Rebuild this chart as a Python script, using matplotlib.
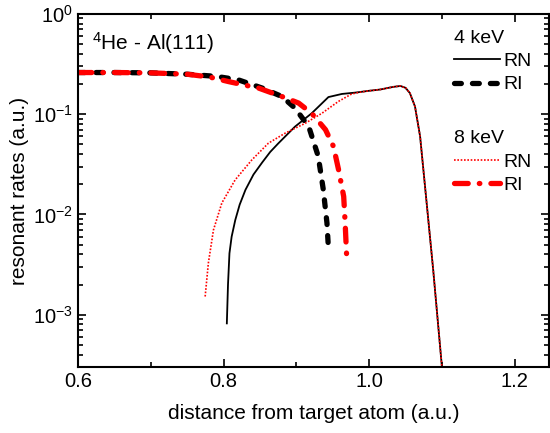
import matplotlib
matplotlib.use('Agg')
import matplotlib.pyplot as plt
from matplotlib.ticker import MultipleLocator, LogLocator, NullFormatter

plt.rcParams['font.family'] = ['Liberation Sans', 'DejaVu Sans']
plt.rcParams['mathtext.fontset'] = 'custom'
plt.rcParams['mathtext.rm'] = 'Liberation Sans'
plt.rcParams['mathtext.it'] = 'Liberation Sans:italic'
plt.rcParams['mathtext.default'] = 'regular'

# falling edge, shared by both RN curves
x_fall = [1.0, 1.015, 1.033, 1.043, 1.05, 1.056, 1.063, 1.07, 1.079, 1.088, 1.1, 1.104]
y_fall = [0.171, 0.176, 0.187, 0.191, 0.183, 0.162, 0.119, 0.06, 0.013, 2.8e-3, 3.0e-4, 1.5e-4]

# 4 keV, resonant neutralization (RN)
x_rn4 = [0.8044, 0.806, 0.808, 0.811, 0.816, 0.822, 0.83, 0.841, 0.853, 0.864, 0.875,
         0.898, 0.921, 0.944, 0.9625, 0.981] + x_fall
y_rn4 = [8.2e-4, 2.0e-3, 4.1e-3, 6.0e-3, 8.8e-3, 0.0125, 0.0176, 0.025, 0.033, 0.042, 0.051,
         0.075, 0.102, 0.148, 0.159, 0.164] + y_fall

# 4 keV, resonant ionization (RI)
x_ri4 = [0.6, 0.65, 0.70, 0.75, 0.79, 0.82, 0.853, 0.88, 0.898, 0.917, 0.93, 0.937,
         0.942, 0.944]
y_ri4 = [0.26, 0.26, 0.258, 0.25, 0.238, 0.22, 0.182, 0.15, 0.115, 0.075, 0.038, 0.0176,
         8.2e-3, 4.6e-3]

# 8 keV, RN
x_rn8 = [0.7746, 0.779, 0.786, 0.7975, 0.8158, 0.8388, 0.8616, 0.8845, 0.912, 0.935,
         0.9578, 0.976, 0.988] + x_fall
y_rn8 = [1.52e-3, 3.27e-3, 7.0e-3, 0.013, 0.0221, 0.035, 0.0514, 0.0646, 0.081, 0.102,
         0.134, 0.159, 0.166] + y_fall

# 8 keV, RI
x_ri8 = [0.6, 0.65, 0.70, 0.75, 0.78, 0.807, 0.848, 0.88, 0.903, 0.921, 0.94, 0.951,
         0.958, 0.965, 0.967, 0.9693]
y_ri8 = [0.26, 0.26, 0.258, 0.25, 0.235, 0.211, 0.182, 0.15, 0.129, 0.102, 0.07, 0.0475,
         0.0278, 0.0151, 8.2e-3, 3.5e-3]

fig = plt.figure(figsize=(5.5, 4.33), dpi=100)
ax = fig.add_axes([0.142, 0.152, 0.856, 0.816])

l_rn4, = ax.plot(x_rn4, y_rn4, color='black', lw=1.3, ls='-')
l_ri4, = ax.plot(x_ri4, y_ri4, color='black', lw=3.8, ls=(0, (1.3, 2.1)),
                 dash_capstyle='round')
l_rn8, = ax.plot(x_rn8, y_rn8, color='red', lw=1.2, ls=(0, (1, 1)))
l_ri8, = ax.plot(x_ri8, y_ri8, color='red', lw=3.8, ls=(0, (2.6, 2.1, 0.1, 2.1)),
                 dash_capstyle='round')

ax.set_yscale('log')
ax.set_xlim(0.6, 1.247)
ax.set_ylim(3e-4, 1)

ax.xaxis.set_major_locator(MultipleLocator(0.2))
ax.xaxis.set_minor_locator(MultipleLocator(0.1))
ax.yaxis.set_major_locator(LogLocator(base=10, numticks=10))
ax.yaxis.set_minor_locator(LogLocator(base=10, subs=range(2, 10), numticks=10))
ax.yaxis.set_minor_formatter(NullFormatter())

ax.tick_params(which='both', direction='in', top=True, right=True, labelsize=14.5, width=1.2)
ax.tick_params(which='major', length=6)
ax.tick_params(which='minor', length=3.5)
for s in ax.spines.values():
    s.set_linewidth(1.5)

ax.set_xlabel('distance from target atom (a.u.)', fontsize=15, labelpad=9)
ax.set_ylabel('resonant rates (a.u.)', fontsize=15, labelpad=3)

ax.text(0.03, 0.955, r'$^{4}$He - Al(111)', transform=ax.transAxes, fontsize=15,
        va='top', ha='left')

leg_kw = dict(alignment='left', loc='upper right', frameon=False, fontsize=14,
              title_fontsize=14, handlelength=2.4, handletextpad=0.15, labelspacing=0.3)
leg1 = ax.legend([l_rn4, l_ri4], ['RN', 'RI'], title='4 keV',
                 bbox_to_anchor=(1.0, 1.005), **leg_kw)
ax.add_artist(leg1)
ax.legend([l_rn8, l_ri8], ['RN', 'RI'], title='8 keV',
          bbox_to_anchor=(1.0, 0.72), **leg_kw)

fig.savefig('out.png', dpi=100)
